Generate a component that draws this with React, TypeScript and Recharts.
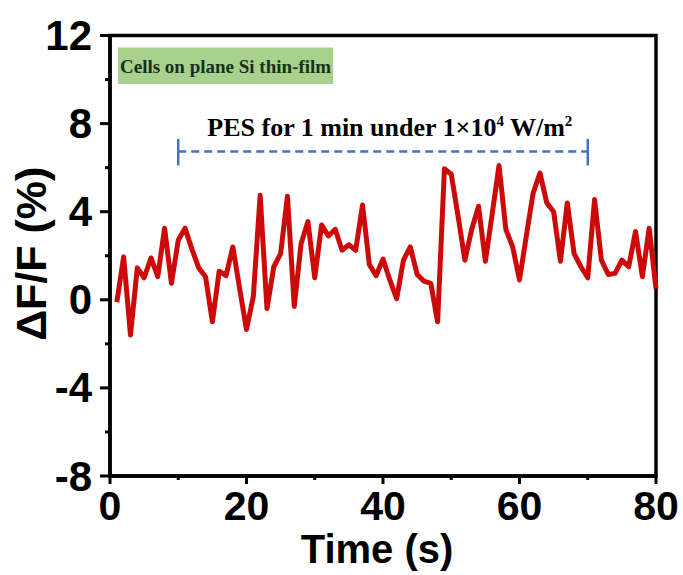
import React from 'react';
import { LineChart, Line, XAxis, YAxis, ReferenceLine, ReferenceArea, ReferenceDot, Label } from 'recharts';

const timeSeconds = [
  1, 2, 3, 4, 5, 6, 7, 8, 9, 10, 11, 12, 13, 14, 15, 16, 17, 18, 19, 20,
  21, 22, 23, 24, 25, 26, 27, 28, 29, 30, 31, 32, 33, 34, 35, 36, 37, 38, 39, 40,
  41, 42, 43, 44, 45, 46, 47, 48, 49, 50, 51, 52, 53, 54, 55, 56, 57, 58, 59, 60,
  61, 62, 63, 64, 65, 66, 67, 68, 69, 70, 71, 72, 73, 74, 75, 76, 77, 78, 79, 80,
];
const deltaFPercent = [
  -0.1, 1.95, -1.6, 1.45, 1.0, 1.9, 1.05, 3.25, 0.75, 2.7,
  3.25, 2.3, 1.45, 1.05, -1.0, 1.3, 1.1, 2.4, 0.5, -1.35,
  0.15, 4.75, -0.4, 1.5, 2.1, 4.7, -0.3, 2.55, 3.55, 1.0,
  3.4, 2.9, 3.2, 2.25, 2.5, 2.25, 4.3, 1.6, 1.1, 1.85,
  0.9, 0.05, 1.8, 2.4, 1.15, 0.85, 0.75, -1.0, 5.95, 5.7,
  3.8, 1.8, 3.2, 4.25, 1.75, 3.9, 6.1, 3.2, 2.4, 0.9,
  2.9, 4.85, 5.75, 4.4, 4.0, 1.75, 4.4, 2.1, 1.5, 1.0,
  4.55, 1.8, 1.15, 1.2, 1.8, 1.5, 3.1, 1.05, 3.25, 0.5,
];
const xTicks = [0, 10, 20, 30, 40, 50, 60, 70, 80];
const xLabeledTicks = [0, 20, 40, 60, 80];
const yTicks = [-8, -6, -4, -2, 0, 2, 4, 6, 8, 10, 12];
const yLabeledTicks = [-8, -4, 0, 4, 8, 12];
const xAxisTitle = 'Time (s)';
const yAxisTitle = 'ΔF/F (%)';
const boxLabel = 'Cells on plane Si thin-film';
const pesStart = 10;
const pesEnd = 70;
const pesLevel = 6.73;
const pesCapLow = 6.1;
const pesCapHigh = 7.3;

const data = timeSeconds.map((t, i) => ({ t, v: deltaFPercent[i] }));

const SANS = 'Liberation Sans, Arial, sans-serif';
const SERIF = 'Liberation Serif, Times New Roman, serif';
const BLUE = '#4472C4';

const YTick = (props: any) => {
  const { x, y, payload } = props;
  const major = yLabeledTicks.includes(payload.value);
  return (
    <g>
      <line x1={x - (major ? 10 : 5)} x2={x} y1={y} y2={y} stroke="#000" strokeWidth={3} />
      {major && (
        <text x={x - 18} y={y} textAnchor="end" dominantBaseline="central" fontFamily={SANS} fontWeight="bold" fontSize={42} fill="#000">
          {payload.value}
        </text>
      )}
    </g>
  );
};

const XTick = (props: any) => {
  const { x, y, payload } = props;
  const major = xLabeledTicks.includes(payload.value);
  return (
    <g>
      <line x1={x} x2={x} y1={y} y2={y + (major ? 8 : 4)} stroke="#000" strokeWidth={3} />
      {major && (
        <text x={x} y={y + 44} textAnchor="middle" fontFamily={SANS} fontWeight="bold" fontSize={41} fill="#000">
          {payload.value}
        </text>
      )}
    </g>
  );
};

const YTitle = (props: any) => {
  const vb = props.viewBox || {};
  const cx = 31;
  const cy = (vb.y ?? 35) + (vb.height ?? 440) / 2 - 2;
  return (
    <text x={cx} y={cy} transform={`rotate(-90 ${cx} ${cy})`} textAnchor="middle" dominantBaseline="central" fontFamily={SANS} fontWeight="bold" fontSize={43} fill="#000">
      {yAxisTitle}
    </text>
  );
};

const XTitle = (props: any) => {
  const vb = props.viewBox || {};
  const cx = (vb.x ?? 110) + (vb.width ?? 546) / 2 - 6;
  return (
    <text x={cx} y={563} textAnchor="middle" fontFamily={SANS} fontWeight="bold" fontSize={40} fill="#000">
      {xAxisTitle}
    </text>
  );
};

const PesLabel = (props: any) => {
  const vb = props.viewBox || {};
  const cx = (vb.x ?? 0) + (vb.width ?? 0) / 2;
  const cy = (vb.y ?? 0) + (vb.height ?? 0) / 2;
  return (
    <text x={cx} y={cy} textAnchor="middle" fontFamily={SERIF} fontWeight="bold" fontSize={26} fill="#000">
      PES for 1 min under 1×10
      <tspan dy={-10} fontSize={15}>4</tspan>
      <tspan dy={10}> W/m</tspan>
      <tspan dy={-10} fontSize={15}>2</tspan>
    </text>
  );
};

export default function App() {
  return (
    <div style={{ position: 'absolute', left: 0, top: 0, background: '#fff' }}>
      <LineChart width={683} height={575} data={data} margin={{ top: 35.5, right: 27, bottom: 9, left: 0 }}>
        <XAxis
          dataKey="t"
          type="number"
          domain={[0, 80]}
          ticks={xTicks}
          interval={0}
          tick={<XTick />}
          tickLine={false}
          tickSize={0}
          tickMargin={0}
          height={90}
          axisLine={{ stroke: '#000', strokeWidth: 3.5 }}
          label={<Label content={<XTitle />} />}
        />
        <YAxis
          type="number"
          domain={[-8, 12]}
          ticks={yTicks}
          interval={0}
          tick={<YTick />}
          tickLine={false}
          tickSize={0}
          tickMargin={0}
          width={110}
          axisLine={{ stroke: '#000', strokeWidth: 3.5 }}
          label={<Label content={<YTitle />} />}
        />
        <ReferenceArea x1={0} x2={80} y1={-8} y2={12} fill="none" stroke="#000" strokeWidth={3.5} ifOverflow="visible" />
        <ReferenceArea
          x1={1.17}
          x2={32.7}
          y1={9.8}
          y2={11.45}
          fill="#A9D18E"
          fillOpacity={1}
          stroke="none"
          label={<Label value={boxLabel} position="center" fill="#17301a" fontSize={19} fontWeight="bold" fontFamily={SERIF} />}
        />
        <ReferenceLine segment={[{ x: pesStart, y: pesLevel }, { x: pesEnd, y: pesLevel }]} stroke={BLUE} strokeWidth={2.5} strokeDasharray="8 5" />
        <ReferenceLine segment={[{ x: pesStart, y: pesCapLow }, { x: pesStart, y: pesCapHigh }]} stroke={BLUE} strokeWidth={2.5} />
        <ReferenceLine segment={[{ x: pesEnd, y: pesCapLow }, { x: pesEnd, y: pesCapHigh }]} stroke={BLUE} strokeWidth={2.5} />
        <ReferenceDot x={41} y={7.45} r={0} fill="none" stroke="none" label={<Label content={<PesLabel />} />} />
        <Line dataKey="v" type="linear" stroke="#CC0A0A" strokeWidth={5} dot={false} isAnimationActive={false} strokeLinejoin="round" />
      </LineChart>
    </div>
  );
}
